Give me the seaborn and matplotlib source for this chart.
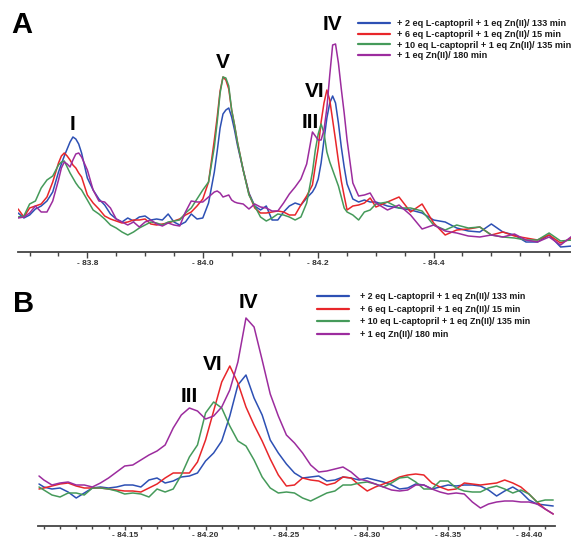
import matplotlib
matplotlib.use("Agg")
import matplotlib.pyplot as plt
from matplotlib.ticker import FixedLocator, MultipleLocator, FuncFormatter
import pandas as pd
import seaborn as sns

# legend entries and line colours
labels = [
    "+ 2 eq L-captopril + 1 eq Zn(II)/ 133 min",
    "+ 6 eq L-captopril + 1 eq Zn(II)/ 15 min",
    "+ 10 eq L-captopril + 1 eq Zn(II)/ 135 min",
    "+ 1 eq Zn(II)/ 180 min",
]
colors = ["#2d50b4", "#e8262a", "#459a5a", "#9c2c9e"]

# ---- panel A (chemical shift magnitude, ppm) ----
shift_a = [83.68, 83.69, 83.70, 83.71, 83.72, 83.73, 83.74, 83.75, 83.755, 83.76,
           83.765, 83.77, 83.775, 83.78, 83.785, 83.79, 83.80, 83.81, 83.82, 83.83,
           83.84, 83.85, 83.86, 83.87, 83.88, 83.89, 83.90, 83.91, 83.92, 83.93,
           83.94, 83.95, 83.96, 83.97, 83.98, 83.99, 84.00, 84.01, 84.02, 84.025,
           84.03, 84.035, 84.04, 84.045, 84.05, 84.055, 84.06, 84.07, 84.08, 84.09,
           84.10, 84.11, 84.12, 84.13, 84.14, 84.15, 84.16, 84.17, 84.18, 84.19,
           84.195, 84.20, 84.205, 84.21, 84.215, 84.22, 84.225, 84.23, 84.235, 84.24,
           84.245, 84.25, 84.26, 84.27, 84.28, 84.29, 84.30, 84.32, 84.34, 84.36,
           84.38, 84.40, 84.42, 84.44, 84.46, 84.48, 84.50, 84.52, 84.54, 84.56,
           84.58, 84.60, 84.62, 84.64]

blue_a = [39, 34, 37, 43, 46, 51, 60, 80, 88, 96,
          103, 110, 115, 113, 108, 99, 74, 62, 53, 47,
          38, 33, 30, 34, 31, 35, 36, 32, 33, 32,
          38, 30, 27, 30, 38, 33, 34, 49, 80, 101,
          124, 138, 142, 144, 135, 122, 107, 82, 59, 46,
          42, 46, 32, 32, 40, 46, 49, 47, 54, 60,
          65, 73, 89, 112, 134, 149, 156, 149, 129, 105,
          85, 68, 53, 50, 52, 50, 50, 46, 44, 42,
          39, 32, 30, 24, 21, 20, 28, 20, 17, 10,
          10, 17, 5, 6]

red_a = [43, 35, 44, 46, 48, 55, 70, 89, 96, 99,
         96, 92, 87, 84, 79, 75, 57, 49, 43, 36,
         33, 31, 29, 30, 32, 32, 33, 28, 27, 28,
         29, 31, 33, 37, 40, 46, 53, 70, 112, 135,
         161, 175, 172, 163, 142, 127, 110, 82, 58, 44,
         39, 39, 40, 41, 40, 37, 37, 47, 56, 67,
         86, 104, 130, 149, 162, 152, 132, 112, 91, 71,
         56, 42, 46, 47, 49, 54, 45, 50, 55, 40,
         48, 29, 17, 22, 23, 25, 17, 20, 16, 14,
         12, 17, 9, 14]

green_a = [35, 36, 48, 51, 64, 72, 76, 87, 90, 91,
           85, 79, 74, 69, 65, 62, 52, 42, 38, 33,
           27, 24, 20, 17, 20, 24, 27, 30, 29, 27,
           30, 31, 32, 39, 44, 53, 62, 70, 105, 130,
           159, 175, 174, 166, 142, 127, 110, 82, 57, 46,
           35, 31, 34, 38, 37, 35, 32, 35, 49, 80,
           102, 118, 128, 119, 100, 90, 82, 74, 66, 55,
           44, 40, 37, 32, 40, 42, 48, 50, 44, 44,
           41, 27, 22, 27, 24, 25, 17, 15, 14, 12,
           12, 19, 11, 12]

purple_a = [34, 35, 39, 46, 40, 40, 51, 72, 84, 90,
            88, 85, 92, 98, 99, 95, 82, 62, 51, 50,
            44, 33, 30, 27, 30, 25, 30, 32, 28, 26,
            29, 27, 26, 40, 51, 50, 50, 55, 60, 61,
            59, 55, 56, 57, 52, 50, 49, 48, 43, 48,
            45, 44, 41, 41, 49, 58, 65, 73, 88, 120,
            116, 112, 112, 122, 144, 177, 207, 208, 189, 163,
            139, 112, 69, 56, 57, 59, 49, 42, 47, 37,
            23, 27, 21, 19, 16, 15, 17, 15, 18, 12,
            10, 15, 7, 16]

# ---- panel B (zoom on peaks III / VI / IV) ----
shift_b = [84.097, 84.100, 84.105, 84.110, 84.115, 84.120, 84.125, 84.130, 84.135, 84.140,
           84.145, 84.150, 84.155, 84.160, 84.165, 84.170, 84.175, 84.180, 84.185, 84.190,
           84.195, 84.200, 84.205, 84.210, 84.215, 84.220, 84.225, 84.230, 84.235, 84.240,
           84.245, 84.250, 84.255, 84.260, 84.265, 84.270, 84.275, 84.280, 84.285, 84.290,
           84.295, 84.300, 84.305, 84.310, 84.315, 84.320, 84.325, 84.330, 84.335, 84.340,
           84.345, 84.350, 84.355, 84.360, 84.365, 84.370, 84.375, 84.380, 84.385, 84.390,
           84.395, 84.400, 84.405, 84.410, 84.415]

blue_b = [45, 42, 40, 41, 37, 31, 36, 41, 42, 41,
          42, 44, 44, 42, 49, 51, 46, 48, 52, 53,
          56, 68, 76, 88, 113, 144, 154, 131, 114, 89,
          76, 65, 56, 51, 52, 53, 48, 49, 52, 51,
          49, 51, 49, 47, 44, 40, 41, 45, 44, 40,
          42, 44, 43, 44, 44, 43, 39, 33, 38, 42,
          37, 29, 25, 24, 23]

red_b = [40, 41, 43, 45, 46, 43, 41, 41, 41, 40,
         39, 38, 38, 37, 41, 45, 51, 56, 56, 56,
         67, 89, 118, 147, 163, 146, 122, 104, 88, 70,
         54, 43, 44, 51, 49, 48, 44, 46, 52, 51,
         44, 38, 42, 45, 48, 52, 54, 55, 54, 46,
         42, 39, 40, 46, 45, 44, 45, 46, 49, 46,
         42, 35, 27, 20, 15]

green_b = [42, 39, 34, 32, 36, 36, 34, 41, 41, 40,
           38, 35, 36, 35, 32, 40, 37, 40, 54, 72,
           84, 116, 127, 121, 103, 88, 83, 69, 52, 41,
           36, 37, 36, 31, 28, 32, 36, 38, 44, 44,
           46, 47, 45, 42, 46, 51, 52, 47, 40, 40,
           48, 48, 41, 38, 37, 37, 41, 43, 40, 36,
           39, 35, 27, 29, 29]

purple_b = [53, 49, 44, 46, 47, 44, 44, 42, 46, 51,
            57, 63, 64, 69, 74, 78, 84, 101, 114, 121,
            118, 110, 113, 122, 139, 167, 211, 202, 169, 135,
            113, 94, 86, 76, 64, 57, 58, 60, 62, 57,
            50, 48, 45, 42, 39, 38, 39, 44, 44, 40,
            37, 35, 36, 35, 27, 21, 25, 27, 28, 28,
            27, 27, 25, 20, 15]

peaks_a = ["I", "V", "VI", "III", "IV"]
peaks_a_pos = [(83.7735, 122), (84.035, 184), (84.193, 155), (84.186, 124), (84.224, 222)]
peaks_b = ["III", "VI", "IV"]
peaks_b_pos = [(84.190, 127), (84.2042, 159), (84.2265, 221)]


def long_frame(shift, series):
    rows = []
    for name, vals in zip(labels, series):
        for s, v in zip(shift, vals):
            rows.append({"shift": -s, "intensity": v, "sample": name})
    return pd.DataFrame(rows)


sns.set_style("white")
plt.rcParams["font.family"] = ["Liberation Sans", "DejaVu Sans"]

W, H = 571, 542
fig = plt.figure(figsize=(W / 100, H / 100), dpi=100)


def px_axes(left, right, top, bottom):
    return fig.add_axes([left / W, 1 - bottom / H, (right - left) / W, (bottom - top) / H])


ax_a = px_axes(18.1, 571, 10, 252)
ax_b = px_axes(38.2, 555.3, 280, 526)

df_a = long_frame(shift_a, [blue_a, red_a, green_a, purple_a])
df_b = long_frame(shift_b, [blue_b, red_b, green_b, purple_b])

for ax, df in [(ax_a, df_a), (ax_b, df_b)]:
    sns.lineplot(data=df, x="shift", y="intensity", hue="sample", hue_order=labels,
                 palette=colors, estimator=None, sort=True, linewidth=1.1, ax=ax)

ax_a.set_xlim(-83.68, -84.638)
ax_a.set_ylim(0, 242)
ax_b.set_xlim(-84.0965, -84.4163)
ax_b.set_ylim(3, 249)

ax_a.xaxis.set_major_locator(FixedLocator([-83.8, -84.0, -84.2, -84.4]))
ax_a.xaxis.set_minor_locator(MultipleLocator(0.05))
ax_a.xaxis.set_major_formatter(FuncFormatter(lambda v, p: f"- {abs(v):.1f}"))
ax_b.xaxis.set_major_locator(FixedLocator([-84.15, -84.20, -84.25, -84.30, -84.35, -84.40]))
ax_b.xaxis.set_minor_locator(MultipleLocator(0.01))
ax_b.xaxis.set_major_formatter(FuncFormatter(lambda v, p: f"- {abs(v):.2f}"))

for ax, tlen, tpad in [(ax_a, 4, 1.5), (ax_b, 3.2, 0.8)]:
    sns.despine(ax=ax, left=True)
    ax.spines["bottom"].set_color("#444444")
    ax.spines["bottom"].set_linewidth(1.3)
    ax.set_yticks([])
    ax.set_xlabel("")
    ax.set_ylabel("")
    ax.tick_params(axis="x", which="major", direction="out", length=tlen, width=1,
                   color="#444444", pad=tpad, labelsize=6, labelcolor="#333333", bottom=True)
    ax.tick_params(axis="x", which="minor", direction="out", length=tlen - 0.8, width=1,
                   color="#444444", bottom=True)
    for t in ax.get_xticklabels():
        t.set_fontweight("bold")

# legends
legend_spec = [(ax_a, 358, 19, 6.6, 0.76, 0.2), (ax_b, 317, 292, 6.4, 1.25, 0.42)]
for ax, lx, ly, fs, tpad, lsp in legend_spec:
    handles, names = ax.get_legend_handles_labels()
    leg = ax.legend(handles, names, loc="upper left",
                    bbox_to_anchor=(lx / W, 1 - ly / H), bbox_transform=fig.transFigure,
                    frameon=False, borderpad=0, borderaxespad=0,
                    handlelength=32 / (fs * 100 / 72), handletextpad=tpad, labelspacing=lsp,
                    prop={"weight": "bold", "size": fs})
    for line in leg.get_lines():
        line.set_linewidth(1.6)
    for t in leg.get_texts():
        t.set_color("#1a1a1a")

for name, (s, h) in zip(peaks_a, peaks_a_pos):
    ax_a.text(-s, h, name, ha="center", va="baseline", fontsize=15, fontweight="bold", color="black")
for name, (s, h) in zip(peaks_b, peaks_b_pos):
    ax_b.text(-s, h, name, ha="center", va="baseline", fontsize=15, fontweight="bold", color="black")

fig.text(11 / W, 1 - 33 / H, "A", fontsize=21, fontweight="bold", va="baseline", color="black")
fig.text(13 / W, 1 - 312 / H, "B", fontsize=21, fontweight="bold", va="baseline", color="black")

fig.savefig("out.png", dpi=100)
